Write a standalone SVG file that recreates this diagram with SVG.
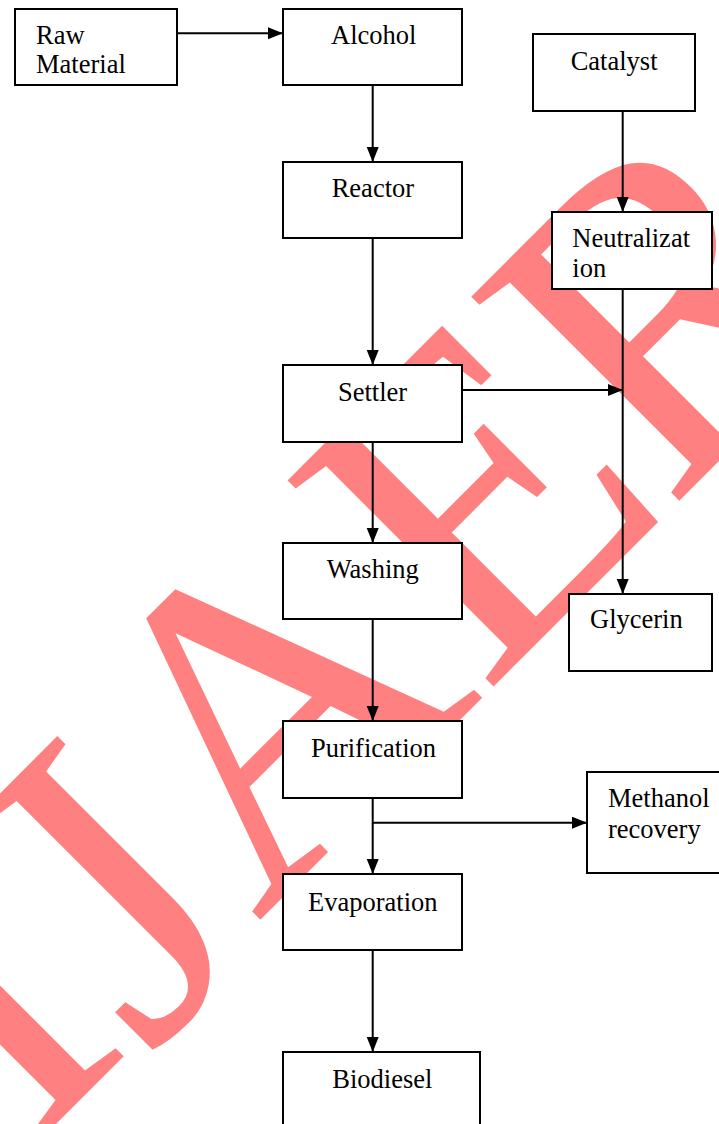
<svg xmlns="http://www.w3.org/2000/svg" width="719" height="1124" viewBox="0 0 719 1124">
<defs>
<style>
.box{fill:#fff;stroke:#000;stroke-width:2}
.lbl{font-family:"Liberation Serif","Times New Roman",serif;font-size:26.5px;fill:#000}
.wm{font-family:"Liberation Serif","Times New Roman",serif;font-size:445px;fill:#FF8080}
.con{fill:none;stroke:#000;stroke-width:2}
</style>
<marker id="ah" markerUnits="userSpaceOnUse" markerWidth="16" markerHeight="14" refX="15" refY="6" orient="auto">
<path d="M0,0 L15,6 L0,12 Z" fill="#000"/>
</marker>
</defs>
<rect width="719" height="1124" fill="#fff"/>
<g id="watermark">
<text class="wm" transform="translate(30,1150) rotate(-45)">I<tspan dy="18">J</tspan><tspan dy="-18">AE</tspan><tspan dx="-12">R</tspan></text>
</g>
<g id="raw-material"><rect class="box" x="15" y="9" width="162" height="76"/><text class="lbl" x="36" y="44.3">Raw</text><text class="lbl" x="36" y="73.3">Material</text></g>
<g id="alcohol"><rect class="box" x="283" y="9" width="179" height="76"/><text class="lbl" x="331" y="44.3">Alcohol</text></g>
<g id="catalyst"><rect class="box" x="533" y="34" width="162" height="77"/><text class="lbl" x="570.7" y="70">Catalyst</text></g>
<g id="reactor"><rect class="box" x="283" y="162" width="179" height="76"/><text class="lbl" x="331.7" y="196.7">Reactor</text></g>
<g id="neutralization"><rect class="box" x="552" y="212" width="160" height="77"/><text class="lbl" x="572.3" y="246.7">Neutralizat</text><text class="lbl" x="572.3" y="276.7">ion</text></g>
<g id="settler"><rect class="box" x="283" y="365" width="179" height="77"/><text class="lbl" x="338" y="401">Settler</text></g>
<g id="washing"><rect class="box" x="283" y="543" width="179" height="76"/><text class="lbl" x="326.7" y="578.3">Washing</text></g>
<g id="glycerin"><rect class="box" x="569" y="594" width="143" height="77"/><text class="lbl" x="590" y="628.3">Glycerin</text></g>
<g id="purification"><rect class="box" x="283" y="721" width="179" height="77"/><text class="lbl" x="310.9" y="756.8">Purification</text></g>
<g id="methanol-recovery"><rect class="box" x="587" y="772" width="150" height="101"/><text class="lbl" x="608" y="807">Methanol</text><text class="lbl" x="608" y="838">recovery</text></g>
<g id="evaporation"><rect class="box" x="283" y="874" width="179" height="76"/><text class="lbl" x="308" y="910.5">Evaporation</text></g>
<g id="biodiesel"><rect class="box" x="283" y="1052" width="197" height="90"/><text class="lbl" x="332.3" y="1088">Biodiesel</text></g>
<g id="connectors">
<path class="con" d="M177,33.3 H283" marker-end="url(#ah)"/>
<path class="con" d="M372.7,85 V162" marker-end="url(#ah)"/>
<path class="con" d="M372.7,238 V365" marker-end="url(#ah)"/>
<path class="con" d="M372.7,442 V543" marker-end="url(#ah)"/>
<path class="con" d="M372.7,619 V721" marker-end="url(#ah)"/>
<path class="con" d="M372.7,798 V874" marker-end="url(#ah)"/>
<path class="con" d="M372.7,822.7 H587" marker-end="url(#ah)"/>
<path class="con" d="M372.7,950 V1052" marker-end="url(#ah)"/>
<path class="con" d="M622.7,111 V212" marker-end="url(#ah)"/>
<path class="con" d="M622.7,289 V594" marker-end="url(#ah)"/>
<path class="con" d="M462,390 H622.7" marker-end="url(#ah)"/>
</g>
</svg>
